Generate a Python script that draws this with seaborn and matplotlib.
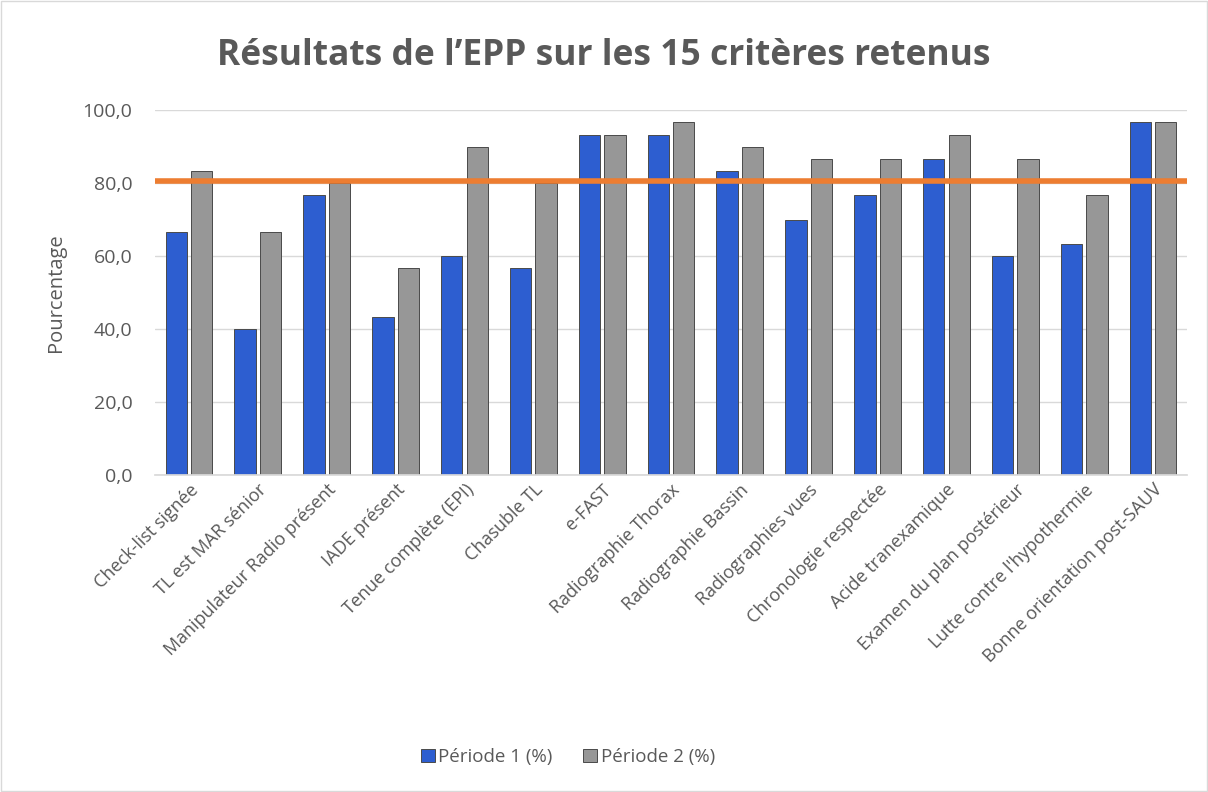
import matplotlib.pyplot as plt
import matplotlib as mpl
import numpy as np
import pandas as pd
import seaborn as sns

criteres = [
    "Check-list signée", "TL est MAR sénior", "Manipulateur Radio présent",
    "IADE présent", "Tenue complète (EPI)", "Chasuble TL", "e-FAST",
    "Radiographie Thorax", "Radiographie Bassin", "Radiographies vues",
    "Chronologie respectée", "Acide tranexamique", "Examen du plan postérieur",
    "Lutte contre l'hypothermie", "Bonne orientation post-SAUV",
]
periode1 = [66.7, 40.0, 76.7, 43.3, 60.0, 56.7, 93.3, 93.3, 83.3, 70.0, 76.7, 86.7, 60.0, 63.3, 96.7]
periode2 = [83.3, 66.7, 80.0, 56.7, 90.0, 80.0, 93.3, 96.7, 90.0, 86.7, 86.7, 93.3, 86.7, 76.7, 96.7]
seuil = 80.5

df = pd.DataFrame({
    "critere": criteres * 2,
    "valeur": periode1 + periode2,
    "periode": ["Période 1 (%)"] * len(criteres) + ["Période 2 (%)"] * len(criteres),
})

sns.set_theme(style="white")
plt.rcParams["font.family"] = ["Open Sans", "DejaVu Sans"]
GREY = "#595959"
mpl.rcParams["text.color"] = GREY
mpl.rcParams["xtick.color"] = GREY
mpl.rcParams["ytick.color"] = GREY
mpl.rcParams["axes.labelcolor"] = GREY

fig = plt.figure(figsize=(12.08, 7.92), dpi=100)
ax = fig.add_axes([0.128, 0.40, 0.855, 0.461])

palette = {"Période 1 (%)": "#2D5ED0", "Période 2 (%)": "#979797"}
sns.barplot(data=df, x="critere", y="valeur", hue="periode", palette=palette,
            width=0.74, gap=0.16, edgecolor="#4a4a4a", linewidth=0.7,
            saturation=1, ax=ax, legend=True)

ax.axhline(seuil, color="#ED7D31", linewidth=4, zorder=5)

ax.set_ylim(0, 100)
ax.set_yticks(np.arange(0, 101, 20))
ax.set_yticklabels([f"{v:.1f}".replace(".", ",") for v in np.arange(0, 101, 20)], fontsize=14)
ax.yaxis.grid(True, color="#D9D9D9", linewidth=1)
ax.set_axisbelow(True)
ax.tick_params(axis="y", length=0, pad=16)
ax.tick_params(axis="x", length=0, pad=4)
ax.set_xticks(range(len(criteres)))
ax.set_xticklabels(criteres, rotation=45, ha="right", rotation_mode="anchor", fontsize=13)
ax.set_xlabel("")
ax.set_ylabel("Pourcentage", fontsize=14.5, labelpad=12)
for s in ["top", "right", "left"]:
    ax.spines[s].set_visible(False)
ax.spines["bottom"].set_color("#D9D9D9")
ax.set_xlim(-0.5, len(criteres) - 0.5)

handles, labels = ax.get_legend_handles_labels()
ax.legend_.remove()
fig.legend(handles, labels, loc="center", bbox_to_anchor=(0.47, 0.044), ncol=2,
           frameon=False, fontsize=13.5, handlelength=0.75, handleheight=0.75,
           handletextpad=0.2, columnspacing=1.6)

fig.text(0.5, 0.929, "Résultats de l’EPP sur les 15 critères retenus",
         ha="center", va="center", fontsize=25.5, fontweight="bold", color=GREY)

fig.patches.append(mpl.patches.Rectangle((0.001, 0.001), 0.998, 0.998, transform=fig.transFigure,
                                         fill=False, edgecolor="#D9D9D9", linewidth=1))

fig.savefig("out.png", dpi=100)
